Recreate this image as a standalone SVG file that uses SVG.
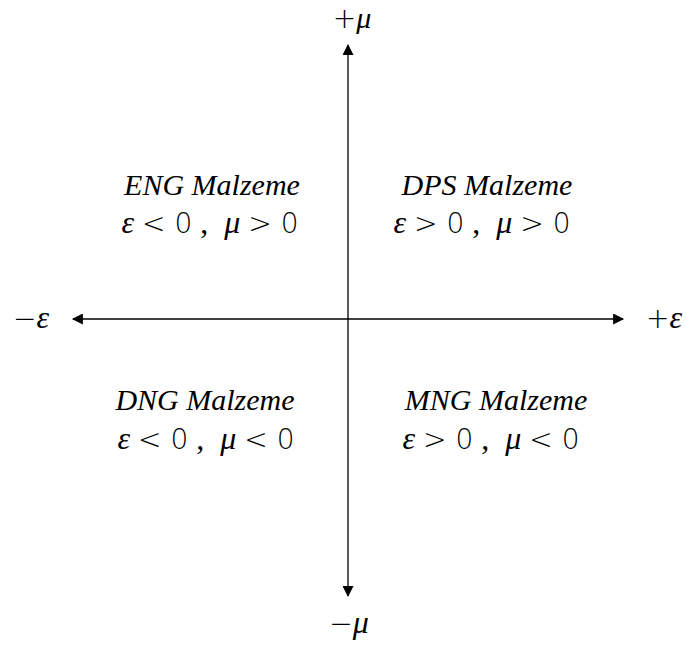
<svg xmlns="http://www.w3.org/2000/svg" width="686" height="646" viewBox="0 0 686 646">
<style>
.t{font-family:"Liberation Serif","DejaVu Serif",serif;font-size:30px;fill:#000;text-anchor:middle}
.i{font-style:italic}
.m{font-size:32px;white-space:pre}
.s{font-family:"DejaVu Sans","Noto Sans",sans-serif;font-size:28px;font-weight:300}
.a{font-size:32px}
.top{font-size:30px}
.ax{stroke:#000;stroke-width:1.3;fill:none}
</style>
<defs>
<marker id="ah" viewBox="0 0 10 10" refX="9" refY="5" markerWidth="12" markerHeight="11" markerUnits="userSpaceOnUse" orient="auto">
<path d="M0,0 L10,5 L0,10 Z" fill="#000"/>
</marker>
</defs>
<g id="connectors">
<line class="ax" x1="348" y1="319" x2="348" y2="45" marker-end="url(#ah)"/>
<line class="ax" x1="348" y1="319" x2="348" y2="596" marker-end="url(#ah)"/>
<line class="ax" x1="348" y1="319" x2="73" y2="319" marker-end="url(#ah)"/>
<line class="ax" x1="348" y1="319" x2="623" y2="319" marker-end="url(#ah)"/>
</g>
<g id="label-plus-mu"><text class="t top" x="352" y="28"><tspan class="s">+</tspan><tspan class="i">μ</tspan></text></g>
<g id="label-minus-mu"><text class="t a" x="349" y="633"><tspan class="s">−</tspan><tspan class="i">μ</tspan></text></g>
<g id="label-minus-eps"><text class="t a" x="31" y="328"><tspan class="s">−</tspan><tspan class="i">ε</tspan></text></g>
<g id="label-plus-eps"><text class="t a" x="664" y="328"><tspan class="s">+</tspan><tspan class="i">ε</tspan></text></g>
<g id="eng">
<text class="t i" x="212" y="195">ENG Malzeme</text>
<text class="t m" x="210" y="233"><tspan class="i">ε</tspan> <tspan class="s">&lt; 0</tspan> ,  <tspan class="i">μ</tspan> <tspan class="s">&gt; 0</tspan></text>
</g>
<g id="dps">
<text class="t i" x="487" y="195">DPS Malzeme</text>
<text class="t m" x="482" y="233"><tspan class="i">ε</tspan> <tspan class="s">&gt; 0</tspan> ,  <tspan class="i">μ</tspan> <tspan class="s">&gt; 0</tspan></text>
</g>
<g id="dng">
<text class="t i" x="205" y="410">DNG Malzeme</text>
<text class="t m" x="206" y="449"><tspan class="i">ε</tspan> <tspan class="s">&lt; 0</tspan> ,  <tspan class="i">μ</tspan> <tspan class="s">&lt; 0</tspan></text>
</g>
<g id="mng">
<text class="t i" x="496" y="410">MNG Malzeme</text>
<text class="t m" x="491" y="449"><tspan class="i">ε</tspan> <tspan class="s">&gt; 0</tspan> ,  <tspan class="i">μ</tspan> <tspan class="s">&lt; 0</tspan></text>
</g>
</svg>
